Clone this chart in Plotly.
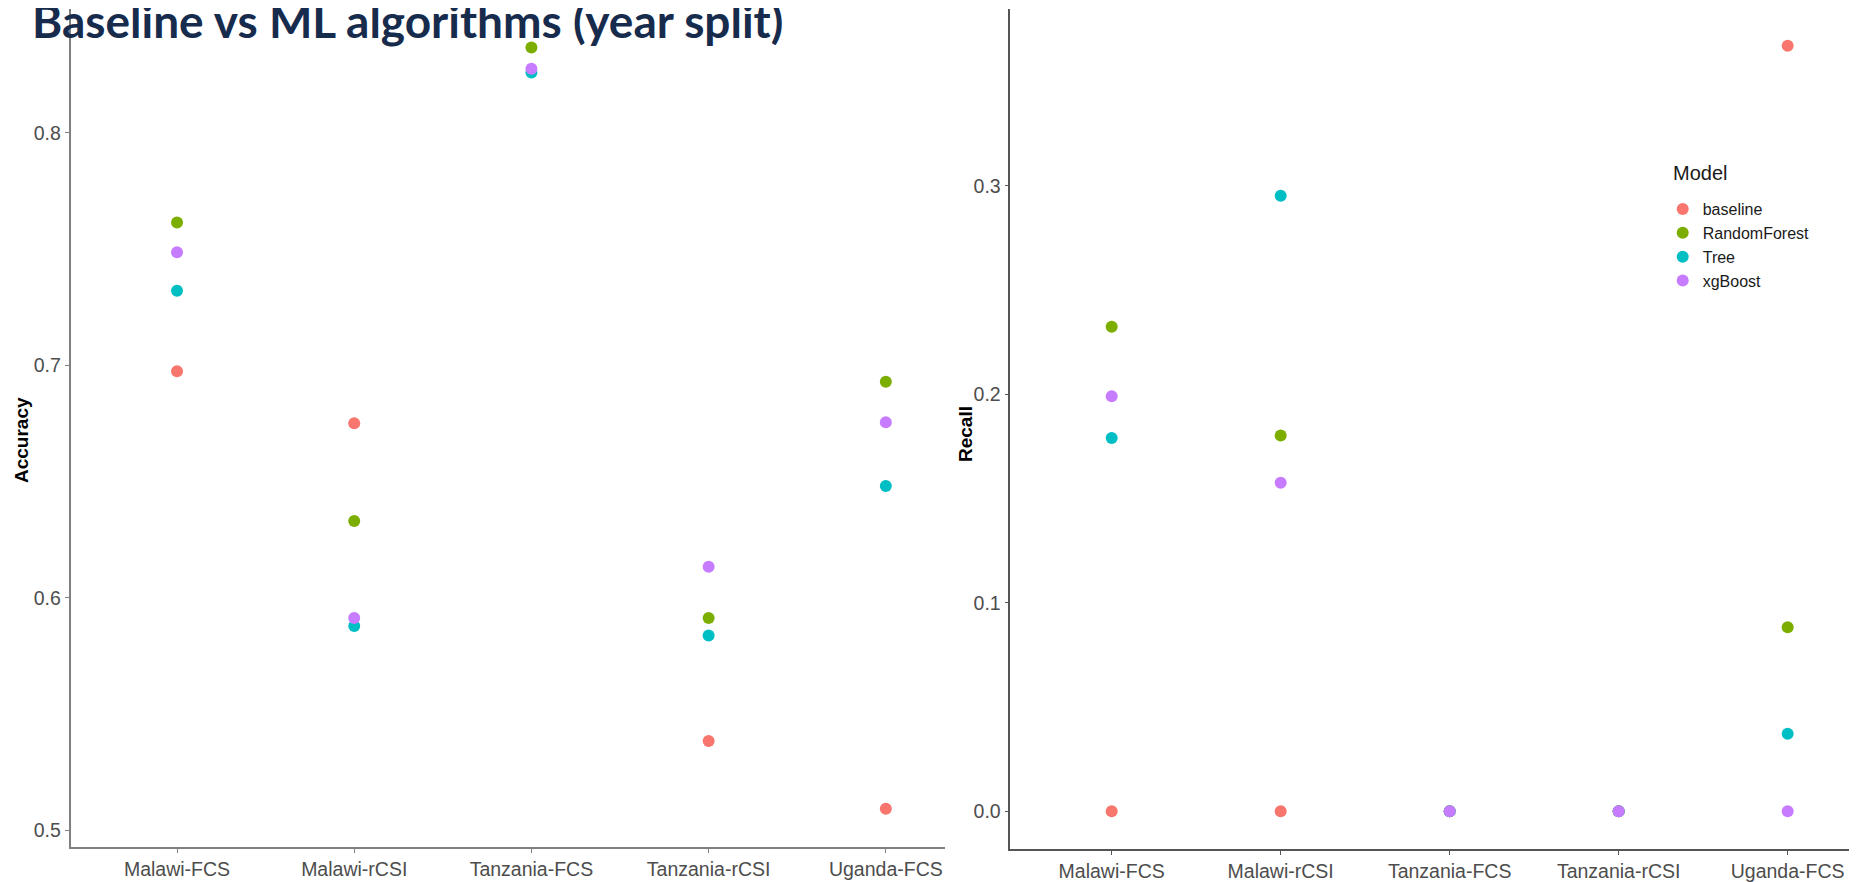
import plotly.graph_objects as go

# page body has an 8px margin, so the figure is 8px smaller and all layout
# coordinates below are given in screen pixels and converted with px()/py().
OFF = 8
W, H = 1864 - OFF, 882 - OFF

categories = ["Malawi-FCS", "Malawi-rCSI", "Tanzania-FCS", "Tanzania-rCSI", "Uganda-FCS"]
models = ["baseline", "RandomForest", "Tree", "xgBoost"]
colors = {"baseline": "#F8766D", "RandomForest": "#7CAE00", "Tree": "#00BFC4", "xgBoost": "#C77CFF"}

accuracy = {
    "baseline":     [0.6974, 0.675, None, 0.5383, 0.5092],
    "RandomForest": [0.7614, 0.633, 0.8367, 0.5913, 0.6929],
    "Tree":         [0.732, 0.5878, 0.826, 0.5837, 0.648],
    "xgBoost":      [0.7486, 0.5913, 0.8276, 0.6133, 0.6755],
}
recall = {
    "baseline":     [0.0, 0.0, 0.0, 0.0, 0.3671],
    "RandomForest": [0.2324, 0.1802, 0.0, 0.0, 0.0883],
    "Tree":         [0.179, 0.2952, 0.0, 0.0, 0.0372],
    "xgBoost":      [0.199, 0.1575, 0.0, 0.0, 0.0],
}
acc_ticks = [0.5, 0.6, 0.7, 0.8]
acc_ticktext = ["0.5", "0.6", "0.7", "0.8"]
rec_ticks = [0.0, 0.1, 0.2, 0.3]
rec_ticktext = ["0.0", "0.1", "0.2", "0.3"]

fig = go.Figure()
for m in models:
    fig.add_trace(go.Scatter(
        x=categories, y=accuracy[m], mode="markers", name=m,
        marker=dict(color=colors[m], size=12), xaxis="x", yaxis="y",
        showlegend=False))
for m in models:
    fig.add_trace(go.Scatter(
        x=categories, y=recall[m], mode="markers", name=m,
        marker=dict(color=colors[m], size=12), xaxis="x2", yaxis="y2",
        showlegend=True))

def px(x):
    return (x - OFF) / W

def py(y):
    return (H - (y - OFF)) / H

ytickfont = dict(family="Liberation Sans, Arial", size=19.5, color="#4d4d4d")
xtickfont = dict(family="Liberation Sans, Arial", size=19.5, color="#4d4d4d")

common_x = dict(type="category", categoryorder="array", categoryarray=categories,
                showgrid=False, zeroline=False, showline=True, ticks="outside",
                ticklen=4, tickfont=xtickfont)
common_y = dict(showgrid=False, zeroline=False, showline=True, ticks="outside",
                ticklen=4, tickfont=ytickfont)

fig.update_layout(
    width=W, height=H, autosize=False,
    margin=dict(l=0, r=0, t=0, b=0),
    paper_bgcolor="white", plot_bgcolor="white",
    xaxis=dict(common_x, domain=[px(70.7), px(945)], range=[-0.6, 4.334],
               linecolor="#808080", linewidth=2, tickcolor="#808080", anchor="y"),
    yaxis=dict(common_y, domain=[py(850.7), py(9.4)], range=[0.4928, 0.8531],
               tickvals=acc_ticks, ticktext=acc_ticktext,
               linecolor="#808080", linewidth=2, tickcolor="#808080", anchor="x"),
    xaxis2=dict(common_x, domain=[px(1010.3), px(1849)], range=[-0.6, 4.363],
                linecolor="#555555", linewidth=1.5, tickcolor="#555555", anchor="y2"),
    yaxis2=dict(common_y, domain=[py(852.7), py(9.5)], range=[-0.018, 0.3845],
                tickvals=rec_ticks, ticktext=rec_ticktext,
                linecolor="#555555", linewidth=1.5, tickcolor="#555555", anchor="x2"),
    legend=dict(x=px(1662.7), y=py(193), xanchor="left", yanchor="top",
                font=dict(family="Liberation Sans, Arial", size=16, color="#1a1a1a"),
                bgcolor="rgba(0,0,0,0)", tracegroupgap=0, itemwidth=30),
    showlegend=True,
)

fig.add_annotation(text="Model", x=px(1670.7), y=py(174), xref="paper", yref="paper",
                   xanchor="left", yanchor="middle", showarrow=False,
                   font=dict(family="Liberation Sans, Arial", size=20, color="#1a1a1a"))
fig.add_annotation(text="<b>Accuracy</b>", x=px(21), y=py(442), xref="paper", yref="paper",
                   xanchor="center", yanchor="middle", showarrow=False, textangle=-90,
                   font=dict(family="Liberation Sans, Arial", size=19, color="black"))
fig.add_annotation(text="<b>Recall</b>", x=px(965), y=py(436), xref="paper", yref="paper",
                   xanchor="center", yanchor="middle", showarrow=False, textangle=-90,
                   font=dict(family="Liberation Sans, Arial", size=19, color="black"))
fig.add_annotation(text="Baseline vs ML algorithms (year split)", x=px(30), y=py(20.5),
                   xref="paper", yref="paper", xanchor="left", yanchor="middle",
                   showarrow=False,
                   font=dict(family="Lato", size=46, color="#172B4D", weight="bold"))

fig.write_html("out.html")
